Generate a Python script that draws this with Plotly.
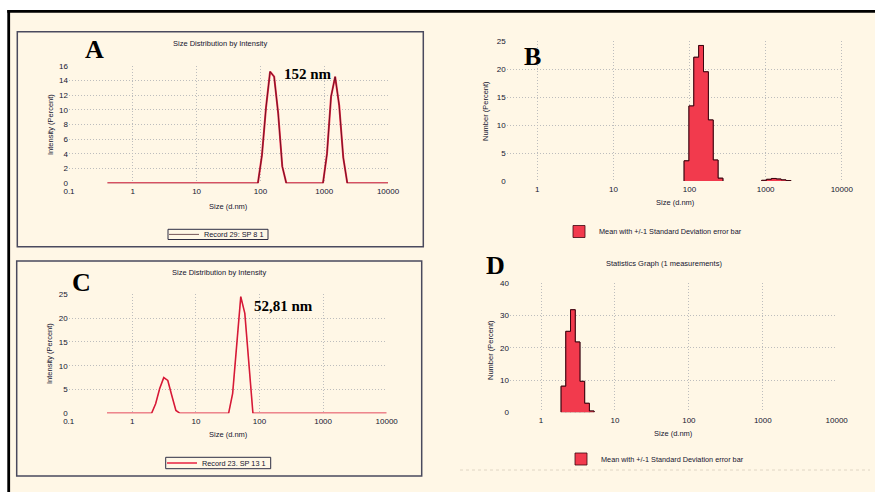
import math
import plotly.graph_objects as go

W, H = 875, 492

# ---------------- data ----------------
TICK_VALS_AC = [0.1, 1, 10, 100, 1000, 10000]
TICK_TEXT_AC = ["0.1", "1", "10", "100", "1000", "10000"]
TICK_VALS_BD = [1, 10, 100, 1000, 10000]
TICK_TEXT_BD = ["1", "10", "100", "1000", "10000"]

# Panel A: size distribution by intensity (Record 29)
A_size = [0.4, 91.28, 105.7, 122.4, 141.8, 164.2, 190.1, 220.2, 255.0,
          955.4, 1106, 1281, 1484, 1718, 1990, 2305, 10000]
A_intensity = [0, 0, 3.8, 10.3, 15.2, 14.5, 9.5, 2.3, 0,
               0, 4.0, 11.8, 14.5, 10.6, 3.5, 0, 0]

# Panel C: size distribution by intensity (Record 23)
C_size = [0.4, 2.01, 2.328, 2.696, 3.122, 3.615, 4.187, 4.849, 5.615,
          32.67, 37.84, 43.82, 50.75, 58.77, 68.06, 78.82, 10000]
C_intensity = [0, 0, 2.0, 5.2, 7.5, 6.9, 3.7, 0.6, 0,
               0, 4.2, 14.5, 24.5, 21.0, 10.5, 0, 0]

# Panel B: number distribution
B_size = [91.28, 105.7, 122.4, 141.8, 164.2, 190.1, 220.2, 255.0,
          955.4, 1106, 1281, 1484, 1718, 1990]
B_number = [3.6, 13.4, 22.1, 24.2, 19.5, 10.9, 3.75, 0.5,
            0.12, 0.3, 0.45, 0.35, 0.2, 0.08]

# Panel D: number distribution (statistics graph)
D_size = [2.01, 2.328, 2.696, 3.122, 3.615, 4.187, 4.849]
D_number = [8.1, 25.1, 31.8, 21.8, 9.6, 2.8, 0.4]

A_peak_label = "152 nm"
C_peak_label = "52,81 nm"
A_record = "Record 29: SP 8 1"
C_record = "Record 23. SP 13 1"
BD_legend = "Mean with +/-1 Standard Deviation error bar"
INTENSITY_TITLE = "Size Distribution by Intensity"
STATS_TITLE = "Statistics Graph (1 measurements)"
X_TITLE = "Size (d.nm)"
Y_INT_TITLE = "Intensity (Percent)"
Y_NUM_TITLE = "Number (Percent)"

# ---------------- styling ----------------
CREAM = "#FFF7E6"
TXT = "#151530"
RED = "#F23A4D"
DARK = "#3A0610"
GRID = "#BDBDBD"
SANS = "Liberation Sans, Arial, sans-serif"
SERIF = "Liberation Serif, Times New Roman, serif"


def fx(px):
    return px / W


def fy(py):
    return 1 - py / H


def bin_edges(sizes):
    half = math.sqrt(sizes[1] / sizes[0])
    return [s / half for s in sizes], [s * half for s in sizes]


def step_outline(lo, hi, vals):
    xs, ys = [], []
    run_open = False
    for i, v in enumerate(vals):
        if not run_open:
            xs += [lo[i]]
            ys += [0]
            run_open = True
        xs += [lo[i], hi[i]]
        ys += [v, v]
        contiguous = i + 1 < len(vals) and abs(lo[i + 1] / hi[i] - 1) < 0.02
        if not contiguous:
            xs += [hi[i], None]
            ys += [0, None]
            run_open = False
    return xs, ys


fig = go.Figure()

# A: red line with dark core
fig.add_trace(go.Scatter(x=A_size, y=A_intensity, mode="lines",
                         line=dict(color="#EE2A48", width=2.0),
                         showlegend=False, hoverinfo="skip",
                         xaxis="x", yaxis="y"))
fig.add_trace(go.Scatter(x=A_size, y=A_intensity, mode="lines",
                         line=dict(color="rgba(50,8,20,0.85)", width=0.8),
                         name=A_record, legend="legend",
                         xaxis="x", yaxis="y"))

# C: red line
fig.add_trace(go.Scatter(x=C_size, y=C_intensity, mode="lines",
                         line=dict(color="#E8203F", width=1.6),
                         name=C_record, legend="legend2",
                         xaxis="x3", yaxis="y3"))
fig.add_trace(go.Scatter(x=C_size, y=C_intensity, mode="lines",
                         line=dict(color="rgba(90,0,20,0.35)", width=0.5),
                         showlegend=False, hoverinfo="skip",
                         xaxis="x3", yaxis="y3"))

# B and D: histogram bars + filled outline
for sizes, vals, xa, ya, lg in [(B_size, B_number, "x2", "y2", "legend3"),
                                (D_size, D_number, "x4", "y4", "legend4")]:
    lo, hi = bin_edges(sizes)
    fig.add_trace(go.Bar(x=lo, y=vals, width=[h - l for l, h in zip(lo, hi)],
                         offset=0,
                         marker=dict(color=RED, line=dict(color=DARK, width=0.8)),
                         name=BD_legend, legend=lg, xaxis=xa, yaxis=ya))
    ox, oy = step_outline(lo, hi, vals)
    fig.add_trace(go.Scatter(x=ox, y=oy, mode="lines", fill="toself",
                             fillcolor=RED, line=dict(color=DARK, width=1),
                             showlegend=False, hoverinfo="skip",
                             xaxis=xa, yaxis=ya))


def xax(x0, x1, rng, tv, tt, anchor):
    return dict(type="log", domain=[fx(x0), fx(x1)], range=rng,
                tickmode="array", tickvals=tv, ticktext=tt,
                showgrid=True, gridcolor=GRID, griddash="1px,2px",
                gridwidth=1, showline=False, zeroline=False, ticks="",
                ticklabelstandoff=2, automargin=False,
                tickfont=dict(family=SANS, size=8, color=TXT),
                anchor=anchor, fixedrange=True)


def yax(top, bottom, rng, dtick, anchor):
    return dict(domain=[fy(bottom), fy(top)], range=rng, dtick=dtick,
                tick0=0, showgrid=True, gridcolor=GRID, griddash="1px,2px",
                gridwidth=1, showline=False, zeroline=False, ticks="",
                automargin=False,
                tickfont=dict(family=SANS, size=8, color=TXT),
                anchor=anchor, fixedrange=True)


def ann(text, x, y, size=7.5, family=SANS, color=TXT, angle=0):
    return dict(text=text, x=fx(x), y=fy(y), xref="paper", yref="paper",
                xanchor="center", yanchor="middle", showarrow=False,
                textangle=angle, font=dict(family=family, size=size, color=color))


annotations = [
    ann("<b>A</b>", 94, 49, 26, SERIF, "#000"),
    ann("<b>B</b>", 532, 57, 26, SERIF, "#000"),
    ann("<b>C</b>", 81, 282, 26, SERIF, "#000"),
    ann("<b>D</b>", 495, 265.5, 26, SERIF, "#000"),
    ann("<b>" + A_peak_label + "</b>", 308, 74, 15, SERIF, "#000"),
    ann("<b>" + C_peak_label + "</b>", 283, 306, 15, SERIF, "#000"),
    ann(INTENSITY_TITLE, 220, 43),
    ann(INTENSITY_TITLE, 219, 272),
    ann(STATS_TITLE, 664, 263),
    ann(X_TITLE, 228, 206),
    ann(X_TITLE, 228, 434),
    ann(X_TITLE, 675, 202),
    ann(X_TITLE, 673, 433),
    ann(Y_INT_TITLE, 50, 125, angle=-90),
    ann(Y_INT_TITLE, 49, 354, angle=-90),
    ann(Y_NUM_TITLE, 486, 111, angle=-90),
    ann(Y_NUM_TITLE, 490, 350, angle=-90),
]

BOX = "#4A4A5E"
shapes = [
    # cream sheet with thick black top and left border (all inside the page)
    dict(type="rect", xref="paper", yref="paper", x0=fx(8.7), x1=1,
         y0=fy(11.4), y1=0, fillcolor=CREAM, line=dict(width=0),
         layer="below"),
    dict(type="line", xref="paper", yref="paper", x0=fx(7.3), x1=1,
         y0=fy(11.4), y1=fy(11.4), line=dict(color="#000", width=2.8),
         layer="below"),
    dict(type="line", xref="paper", yref="paper", x0=fx(8.7), x1=fx(8.7),
         y0=fy(10), y1=0, line=dict(color="#000", width=2.8),
         layer="below"),
    dict(type="rect", xref="paper", yref="paper", x0=fx(17.3), x1=fx(423.3),
         y0=fy(31.7), y1=fy(246.7), line=dict(color=BOX, width=1.5),
         layer="below"),
    dict(type="rect", xref="paper", yref="paper", x0=fx(16.7), x1=fx(421.7),
         y0=fy(261), y1=fy(476), line=dict(color=BOX, width=1.5),
         layer="below"),
    # legend frames of panels A and C
    dict(type="rect", xref="paper", yref="paper", x0=fx(168), x1=fx(268),
         y0=fy(229.3), y1=fy(239.5), line=dict(color="#2E2E44", width=1),
         layer="below"),
    dict(type="rect", xref="paper", yref="paper", x0=fx(165.7), x1=fx(270.7),
         y0=fy(457.3), y1=fy(468.7), line=dict(color="#2E2E44", width=1),
         layer="below"),
    dict(type="line", xref="paper", yref="paper", x0=fx(460), x1=fx(870),
         y0=fy(470), y1=fy(470), line=dict(color="#E0D6C4", width=1, dash="dot"),
         layer="below"),
]

legfont = dict(family=SANS, size=7.3, color=TXT)
plain = dict(xanchor="left", yanchor="middle", bgcolor="rgba(0,0,0,0)",
             borderwidth=0, font=legfont, itemwidth=30)
fig.update_layout(
    width=W, height=H,
    margin=dict(l=0, r=0, t=0, b=0, pad=0, autoexpand=False),
    paper_bgcolor="white", plot_bgcolor="rgba(0,0,0,0)",
    showlegend=True, barmode="overlay",
    xaxis=xax(69, 388, [-1, 4], TICK_VALS_AC, TICK_TEXT_AC, "y"),
    yaxis=yax(65.7, 183.3, [0, 16], 2, "x"),
    xaxis2=xax(506.7, 843.3, [-0.402, 4.02], TICK_VALS_BD, TICK_TEXT_BD, "y2"),
    yaxis2=yax(41, 181, [0, 25], 5, "x2"),
    xaxis3=xax(68.7, 386.7, [-1, 4], TICK_VALS_AC, TICK_TEXT_AC, "y3"),
    yaxis3=yax(294.3, 413.3, [0, 25], 5, "x3"),
    xaxis4=xax(510, 836.7, [-0.42, 4.0], TICK_VALS_BD, TICK_TEXT_BD, "y4"),
    yaxis4=yax(283.3, 412.3, [0, 40], 10, "x4"),
    legend=dict(x=fx(164), y=fy(234.4), **plain),
    legend2=dict(x=fx(162), y=fy(463), **plain),
    legend3=dict(x=fx(559), y=fy(231.5), **plain),
    legend4=dict(x=fx(561), y=fy(459), **plain),
    annotations=annotations,
    shapes=shapes,
)

fig.write_html("out.html",
               config={"displayModeBar": False, "staticPlot": True},
               post_script="document.documentElement.style.margin='0';"
                           "document.documentElement.style.overflow='hidden';"
                           "document.body.style.margin='0';"
                           "document.body.style.overflow='hidden';")
